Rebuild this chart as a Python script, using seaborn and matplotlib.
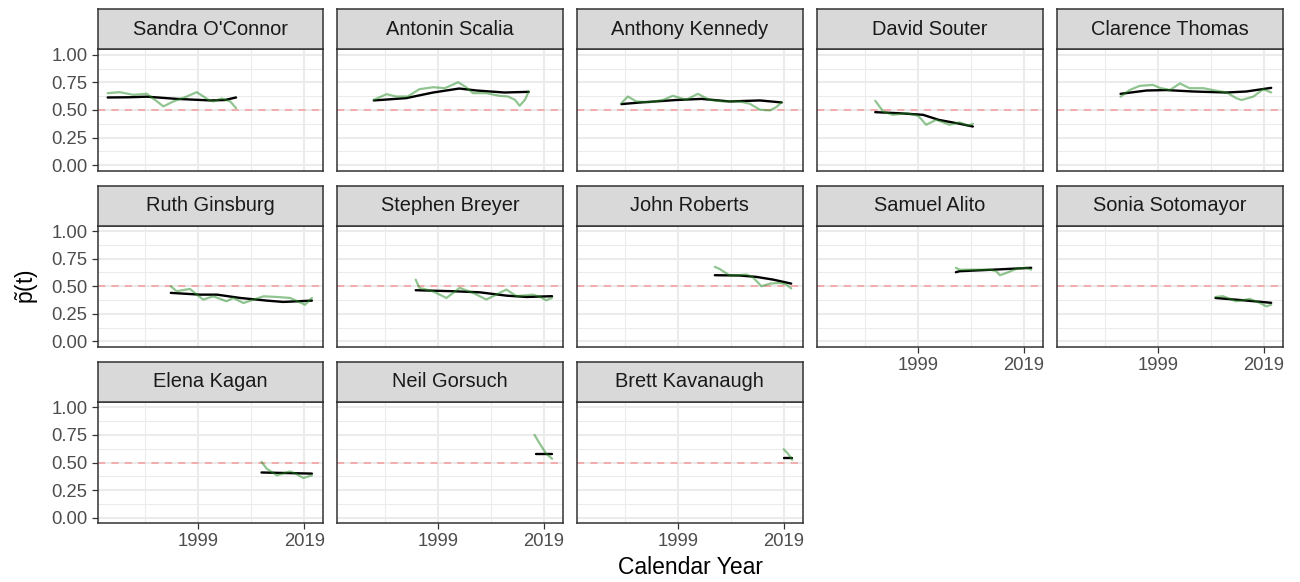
import numpy as np
import pandas as pd
import matplotlib
matplotlib.use("Agg")
import matplotlib.pyplot as plt
import seaborn as sns

# ---------------- data ----------------
justices = ["Sandra O'Connor", "Antonin Scalia", "Anthony Kennedy", "David Souter",
            "Clarence Thomas", "Ruth Ginsburg", "Stephen Breyer", "John Roberts",
            "Samuel Alito", "Sonia Sotomayor", "Elena Kagan", "Neil Gorsuch",
            "Brett Kavanaugh"]

raw_years = {
    "Sandra O'Connor": [1981.9, 1984.2, 1986.7, 1989.3, 1990.8, 1992.4, 1994.3, 1996.5, 1998.7, 2000.9, 2001.8, 2003.4, 2005.0, 2006.1],
    "Antonin Scalia": [1986.9, 1989.3, 1991.1, 1993.3, 1995.5, 1998.1, 2000.3, 2002.8, 2004.3, 2005.6, 2008.1, 2010.6, 2012.2, 2013.5, 2014.4, 2015.4, 2016.1],
    "Anthony Kennedy": [1988.4, 1989.6, 1991.2, 1993.7, 1996.2, 1998.1, 2000.6, 2002.8, 2005.0, 2007.6, 2010.7, 2012.6, 2014.5, 2016.4, 2017.6, 2018.6],
    "David Souter": [1991.0, 1992.5, 1994.3, 1996.9, 1999.1, 2000.6, 2002.5, 2005.0, 2006.9, 2008.5, 2009.4],
    "Clarence Thomas": [1992.0, 1993.7, 1995.6, 1998.1, 1999.4, 2001.3, 2003.2, 2005.0, 2007.6, 2009.4, 2012.0, 2013.8, 2014.8, 2017.0, 2018.9, 2020.4],
    "Ruth Ginsburg": [1993.8, 1994.9, 1997.4, 1999.9, 2001.8, 2004.3, 2005.6, 2007.5, 2009.4, 2011.3, 2013.8, 2016.3, 2019.1, 2020.4],
    "Stephen Breyer": [1994.8, 1995.5, 1998.0, 2000.6, 2003.1, 2005.6, 2008.1, 2010.0, 2011.9, 2013.8, 2016.9, 2018.2, 2019.4, 2020.5],
    "John Roberts": [2006.0, 2006.9, 2008.8, 2010.4, 2012.0, 2013.2, 2014.8, 2016.4, 2018.2, 2019.5, 2020.4],
    "Samuel Alito": [2006.2, 2006.9, 2010.0, 2012.6, 2013.8, 2014.5, 2015.7, 2017.6, 2019.5, 2020.4],
    "Sonia Sotomayor": [2009.9, 2011.3, 2013.8, 2016.4, 2018.2, 2019.5, 2020.4],
    "Elena Kagan": [2010.9, 2011.9, 2013.8, 2016.3, 2017.3, 2018.8, 2020.4],
    "Neil Gorsuch": [2017.2, 2018.2, 2019.4, 2020.5],
    "Brett Kavanaugh": [2019.0, 2019.8, 2020.6],
}
raw_p = {
    "Sandra O'Connor": [0.652, 0.661, 0.637, 0.646, 0.592, 0.532, 0.577, 0.616, 0.661, 0.592, 0.577, 0.604, 0.577, 0.517],
    "Antonin Scalia": [0.592, 0.643, 0.622, 0.622, 0.688, 0.706, 0.697, 0.751, 0.706, 0.652, 0.652, 0.628, 0.622, 0.592, 0.538, 0.592, 0.667],
    "Anthony Kennedy": [0.562, 0.622, 0.577, 0.570, 0.590, 0.628, 0.592, 0.646, 0.592, 0.577, 0.577, 0.556, 0.502, 0.496, 0.526, 0.571],
    "David Souter": [0.583, 0.486, 0.456, 0.471, 0.447, 0.366, 0.411, 0.366, 0.387, 0.357, 0.375],
    "Clarence Thomas": [0.620, 0.680, 0.718, 0.727, 0.700, 0.680, 0.740, 0.697, 0.697, 0.680, 0.658, 0.607, 0.590, 0.620, 0.688, 0.658],
    "Ruth Ginsburg": [0.500, 0.455, 0.476, 0.379, 0.409, 0.364, 0.394, 0.348, 0.379, 0.409, 0.403, 0.394, 0.333, 0.394],
    "Stephen Breyer": [0.560, 0.485, 0.455, 0.394, 0.485, 0.440, 0.380, 0.424, 0.470, 0.410, 0.424, 0.405, 0.373, 0.394],
    "John Roberts": [0.676, 0.657, 0.597, 0.600, 0.606, 0.580, 0.500, 0.524, 0.530, 0.515, 0.480],
    "Samuel Alito": [0.667, 0.650, 0.650, 0.650, 0.636, 0.600, 0.620, 0.658, 0.667, 0.650],
    "Sonia Sotomayor": [0.403, 0.410, 0.364, 0.385, 0.350, 0.318, 0.333],
    "Elena Kagan": [0.505, 0.444, 0.384, 0.420, 0.400, 0.360, 0.384],
    "Neil Gorsuch": [0.750, 0.670, 0.580, 0.535],
    "Brett Kavanaugh": [0.620, 0.580, 0.525],
}
smooth_years = {
    "Sandra O'Connor": [1981.9, 1986.0, 1989.3, 1995.0, 2001.3, 2004.0, 2006.1],
    "Antonin Scalia": [1986.9, 1993.0, 1998.1, 2003.0, 2006.3, 2011.5, 2016.1],
    "Anthony Kennedy": [1988.4, 1991.8, 1998.7, 2003.5, 2008.8, 2014.5, 2018.6],
    "David Souter": [1991.0, 1995.6, 2000.0, 2003.0, 2006.9, 2009.4],
    "Clarence Thomas": [1992.0, 1996.9, 2000.6, 2005.7, 2012.0, 2015.7, 2020.4],
    "Ruth Ginsburg": [1993.8, 1999.3, 2002.5, 2006.9, 2011.9, 2015.0, 2020.4],
    "Stephen Breyer": [1994.8, 2001.8, 2006.9, 2011.9, 2015.7, 2020.5],
    "John Roberts": [2006.0, 2010.7, 2013.8, 2017.0, 2020.4],
    "Samuel Alito": [2006.2, 2006.9, 2013.2, 2020.4],
    "Sonia Sotomayor": [2009.9, 2015.1, 2020.4],
    "Elena Kagan": [2010.9, 2020.4],
    "Neil Gorsuch": [2017.5, 2020.5],
    "Brett Kavanaugh": [2019.0, 2020.6],
}
smooth_p = {
    "Sandra O'Connor": [0.613, 0.615, 0.620, 0.600, 0.586, 0.590, 0.613],
    "Antonin Scalia": [0.586, 0.607, 0.658, 0.694, 0.676, 0.658, 0.664],
    "Anthony Kennedy": [0.553, 0.567, 0.590, 0.600, 0.577, 0.586, 0.568],
    "David Souter": [0.480, 0.470, 0.456, 0.410, 0.375, 0.350],
    "Clarence Thomas": [0.646, 0.676, 0.680, 0.667, 0.658, 0.667, 0.700],
    "Ruth Ginsburg": [0.440, 0.424, 0.424, 0.394, 0.370, 0.358, 0.370],
    "Stephen Breyer": [0.464, 0.455, 0.445, 0.415, 0.403, 0.410],
    "John Roberts": [0.600, 0.597, 0.585, 0.560, 0.524],
    "Samuel Alito": [0.627, 0.636, 0.650, 0.667],
    "Sonia Sotomayor": [0.394, 0.373, 0.350],
    "Elena Kagan": [0.410, 0.400],
    "Neil Gorsuch": [0.574, 0.574],
    "Brett Kavanaugh": [0.540, 0.540],
}
x_breaks = [1999, 2019]
x_minor = [1989, 2009]
y_breaks = [0.00, 0.25, 0.50, 0.75, 1.00]
y_tick_labels = ["0.00", "0.25", "0.50", "0.75", "1.00"]
y_minor = [0.125, 0.375, 0.625, 0.875]
reference_p = 0.5

# ---------------- style ----------------
sns.set_theme(style="white")
plt.rcParams["font.family"] = ["Liberation Sans", "DejaVu Sans"]
plt.rcParams["mathtext.fontset"] = "custom"
plt.rcParams["mathtext.rm"] = "Liberation Sans"
plt.rcParams["mathtext.it"] = "Liberation Sans:italic"
plt.rcParams["mathtext.bf"] = "Liberation Sans:bold"

raw_df = pd.concat([pd.DataFrame({"justice": j, "year": raw_years[j], "p": raw_p[j]}) for j in justices])
smooth_df = pd.concat([pd.DataFrame({"justice": j, "year": smooth_years[j], "p": smooth_p[j]}) for j in justices])

W, H = 1300, 582
fig = plt.figure(figsize=(W / 100, H / 100), dpi=100)
fig.patch.set_facecolor("white")

col_lefts = [97.7, 337.3, 577.0, 817.0, 1057.0]
panel_w = 225.5
panel_tops = [49.2, 225.5, 401.8]
panel_h = 121.5
strip_h = 40.0
border_c = "#333333"
grid_c = "#EBEBEB"

def add_ax(l, t, w, h):
    return fig.add_axes([l / W, 1 - (t + h) / H, w / W, h / H])

for i, name in enumerate(justices):
    r, c = divmod(i, 5)
    l, t = col_lefts[c], panel_tops[r]
    ax = add_ax(l, t, panel_w, panel_h)
    ax.set_facecolor("white")
    ax.set_xlim(1980.02, 2022.53)
    ax.set_ylim(-0.05, 1.05)
    # grid
    for xv in x_minor:
        ax.axvline(xv, color=grid_c, lw=0.75, zorder=0)
    for yv in y_minor:
        ax.axhline(yv, color=grid_c, lw=0.75, zorder=0)
    for xv in x_breaks:
        ax.axvline(xv, color=grid_c, lw=1.5, zorder=0)
    for yv in y_breaks:
        ax.axhline(yv, color=grid_c, lw=1.5, zorder=0)
    ax.axhline(reference_p, color="#F3A8A8", lw=1.3,
               linestyle=(0, (4.0, 3.4)), zorder=1)
    sns.lineplot(data=smooth_df[smooth_df.justice == name], x="year", y="p", ax=ax,
                 color="black", lw=1.7, zorder=2, errorbar=None)
    sns.lineplot(data=raw_df[raw_df.justice == name], x="year", y="p", ax=ax,
                 color="forestgreen", alpha=0.5, lw=1.6, zorder=3, errorbar=None)
    ax.set_xlabel("")
    ax.set_ylabel("")
    ax.set_xticks(x_breaks)
    ax.set_yticks(y_breaks)
    show_x = (r == 2) or (r == 1 and c >= 3)
    show_y = (c == 0)
    ax.set_xticklabels([str(v) for v in x_breaks] if show_x else [])
    ax.set_yticklabels(y_tick_labels if show_y else [])
    ax.tick_params(axis="x", bottom=show_x, length=4.1, width=0.9, color=border_c,
                   labelsize=13.3, labelcolor="#4D4D4D", pad=3)
    ax.tick_params(axis="y", left=show_y, length=4.1, width=0.9, color=border_c,
                   labelsize=13.3, labelcolor="#4D4D4D", pad=3.3)
    for s in ax.spines.values():
        s.set_color(border_c)
        s.set_linewidth(1.1)
        s.set_zorder(5)
    # strip
    sax = add_ax(l, t - strip_h, panel_w, strip_h)
    sax.set_facecolor("#D9D9D9")
    sax.set_xticks([])
    sax.set_yticks([])
    for s in sax.spines.values():
        s.set_color(border_c)
        s.set_linewidth(1.1)
    sax.text(0.5, 0.5, name, ha="center", va="center", fontsize=14.4,
             color="#1A1A1A", transform=sax.transAxes)

fig.text(27 / W, 1 - 287 / H, r"$\tilde{\mathrm{p}}\mathrm{(t)}$", rotation=90,
         ha="center", va="center", fontsize=16.5, color="black")
fig.text(690 / W, 1 - 568 / H, "Calendar Year", ha="center", va="center",
         fontsize=16.5, color="black")

fig.savefig("out.png", dpi=100, facecolor="white")
